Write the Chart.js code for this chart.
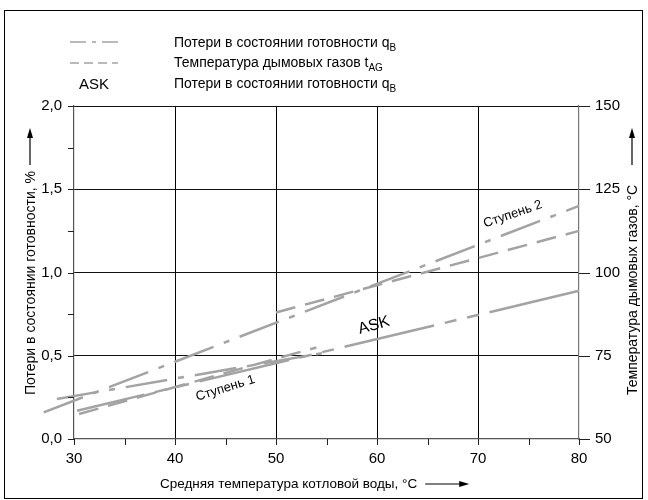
<!DOCTYPE html>
<html><head><meta charset="utf-8">
<script src="https://cdn.jsdelivr.net/npm/chart.js@4.4.0/dist/chart.umd.min.js"></script>
<style>
html,body{margin:0;padding:0;background:#fff;}
#wrap{position:relative;width:648px;height:500px;}
#frame{position:absolute;left:4px;top:10px;width:639px;height:489px;border:1.5px solid #000;box-sizing:border-box;}
canvas{position:absolute;left:0;top:0;}
</style></head><body>
<div id="wrap"><div id="frame"></div><canvas id="c" width="648" height="500"></canvas></div>
<script>
// x: average boiler water temperature, °C ; left y: standby losses q_B, % ; right y: flue gas temperature, °C
const xTicks = [30, 40, 50, 60, 70, 80];
const yLeftTicks = [0.0, 0.5, 1.0, 1.5, 2.0];
const yRightTicks = [50, 75, 100, 125, 150];
const stage2Loss = [{x: 27, y: 0.16}, {x: 80, y: 1.40}];
const stage2Gas = [{x: 50, y: 88}, {x: 80, y: 112.5}];
const stage1Loss = [{x: 28.3, y: 0.24}, {x: 55, y: 0.52}];
const stage1Gas = [{x: 30.5, y: 57.5}, {x: 54, y: 77.5}];
const askLoss = [{x: 80, y: 0.89}, {x: 30.3, y: 0.17}];

const gray = '#a3a3a3';
const FONT = '"Liberation Sans", Arial, sans-serif';
const isMajorY = v => Math.abs(v * 2 - Math.round(v * 2)) < 1e-6;
const chart = new Chart(document.getElementById('c'), {
  type: 'scatter',
  data: { datasets: [
    {data: stage2Loss, showLine: true, borderColor: gray, borderWidth: 2.5, borderDash: [42, 11, 6, 11], pointRadius: 0, yAxisID: 'y', clip: false},
    {data: stage2Gas, showLine: true, borderColor: gray, borderWidth: 2.5, borderDash: [20, 10], pointRadius: 0, yAxisID: 'y2', clip: false},
    {data: stage1Loss, showLine: true, borderColor: gray, borderWidth: 2.5, borderDash: [42, 11, 6, 11], pointRadius: 0, yAxisID: 'y', clip: false},
    {data: stage1Gas, showLine: true, borderColor: gray, borderWidth: 2.5, borderDash: [20, 10], pointRadius: 0, yAxisID: 'y2', clip: false},
    {data: askLoss, showLine: true, borderColor: gray, borderWidth: 2.5, borderDash: [92, 11, 12, 11, 12, 11], pointRadius: 0, yAxisID: 'y', clip: false}
  ]},
  options: {
    responsive: false, animation: false,
    layout: {padding: {left: 0, right: 0, top: 106, bottom: 0}},
    plugins: {legend: {display: false}, tooltip: {enabled: false}},
    scales: {
      x: {type: 'linear', min: 30, max: 80,
        afterFit: s => { s.height = 61; },
        afterBuildTicks: a => { a.ticks = []; for (let v = 30; v <= 80; v += 5) a.ticks.push({value: v}); },
        ticks: {color: '#000', font: {family: FONT, size: 15}, padding: 11, maxRotation: 0,
          callback: v => xTicks.includes(v) ? String(v) : ''},
        grid: {color: c => (c.tick && xTicks.includes(c.tick.value) && c.tick.value > 30 && c.tick.value < 80) ? '#000' : 'rgba(0,0,0,0)',
          lineWidth: 1, drawTicks: false},
        border: {display: true, color: '#555', width: 1.2}
      },
      y: {type: 'linear', position: 'left', min: 0, max: 2,
        afterFit: s => { s.width = 74; },
        afterBuildTicks: a => { a.ticks = []; for (let i = 0; i <= 8; i++) a.ticks.push({value: i * 0.25}); },
        ticks: {color: '#000', font: {family: FONT, size: 15}, padding: 12,
          callback: v => isMajorY(v) ? v.toFixed(1).replace('.', ',') : ''},
        grid: {color: c => (c.tick && isMajorY(c.tick.value) && c.tick.value > 0) ? '#111' : 'rgba(0,0,0,0)', lineWidth: 1, drawTicks: false},
        border: {display: true, color: '#555', width: 1.2}
      },
      y2: {type: 'linear', position: 'right', min: 50, max: 150,
        afterFit: s => { s.width = 69; },
        afterBuildTicks: a => { a.ticks = yRightTicks.map(v => ({value: v})); },
        ticks: {color: '#000', font: {family: FONT, size: 15}, padding: 8},
        grid: {display: false},
        border: {display: true, color: '#777', width: 1.2}
      }
    }
  },
  plugins: [{
    id: 'deco',
    afterDraw(ch) {
      const ctx = ch.ctx, x = ch.scales.x, y = ch.scales.y, y2 = ch.scales.y2;
      ctx.save();
      ctx.strokeStyle = '#222'; ctx.lineWidth = 1;
      for (let i = 0; i <= 8; i++) {
        const py = Math.round(y.getPixelForValue(i * 0.25)) + 0.5;
        ctx.beginPath(); ctx.moveTo(x.left - 6, py); ctx.lineTo(x.left, py); ctx.stroke();
      }
      for (const v of yRightTicks) {
        const py = Math.round(y2.getPixelForValue(v)) + 0.5;
        ctx.beginPath(); ctx.moveTo(x.right, py); ctx.lineTo(x.right + 11, py); ctx.stroke();
      }
      for (let v = 30; v <= 80; v += 5) {
        const px = Math.round(x.getPixelForValue(v)) + 0.5;
        ctx.beginPath(); ctx.moveTo(px, y.bottom); ctx.lineTo(px, y.bottom + 6); ctx.stroke();
      }
      ctx.fillStyle = '#000'; ctx.strokeStyle = '#000'; ctx.lineWidth = 1.2;
      const arrowH = (x0, x1, yy) => {
        ctx.beginPath(); ctx.moveTo(x0, yy); ctx.lineTo(x1 - 8, yy); ctx.stroke();
        ctx.beginPath(); ctx.moveTo(x1, yy); ctx.lineTo(x1 - 10, yy - 3); ctx.lineTo(x1 - 10, yy + 3); ctx.closePath(); ctx.fill();
      };
      const arrowV = (xx, y0, y1) => {
        ctx.beginPath(); ctx.moveTo(xx, y0); ctx.lineTo(xx, y1 + 8); ctx.stroke();
        ctx.beginPath(); ctx.moveTo(xx, y1); ctx.lineTo(xx - 3, y1 + 10); ctx.lineTo(xx + 3, y1 + 10); ctx.closePath(); ctx.fill();
      };
      // axis titles
      ctx.textBaseline = 'alphabetic';
      ctx.textAlign = 'left';
      ctx.font = '13.5px ' + FONT;
      ctx.fillText('Средняя температура котловой воды, °C', 160, 488);
      const tw = ctx.measureText('Средняя температура котловой воды, °C').width;
      arrowH(160 + tw + 8, 160 + tw + 52, 484);
      ctx.font = '14px ' + FONT;
      ctx.save(); ctx.translate(35, 395); ctx.rotate(-Math.PI / 2);
      ctx.fillText('Потери в состоянии готовности, %', 0, 0); ctx.restore();
      arrowV(30, 165, 128);
      ctx.save(); ctx.translate(637, 395); ctx.rotate(-Math.PI / 2);
      ctx.fillText('Температура дымовых газов, °C', 0, 0); ctx.restore();
      arrowV(632, 165, 128);
      // curve labels
      ctx.font = '13px ' + FONT;
      const lab = (t, vx, vy, ang) => {
        ctx.save(); ctx.translate(x.getPixelForValue(vx), y.getPixelForValue(vy)); ctx.rotate(ang); ctx.fillText(t, 0, 0); ctx.restore();
      };
      lab('Ступень 2', 70.7, 1.27, -0.33);
      lab('Ступень 1', 42.2, 0.23, -0.30);
      ctx.font = '16px ' + FONT;
      lab('ASK', 58.3, 0.63, -0.28);
      // legend
      ctx.strokeStyle = gray; ctx.lineWidth = 1.5;
      ctx.setLineDash([16, 6, 4, 6]);
      ctx.beginPath(); ctx.moveTo(70, 42); ctx.lineTo(118, 42); ctx.stroke();
      ctx.setLineDash([9, 5]);
      ctx.beginPath(); ctx.moveTo(70, 63); ctx.lineTo(118, 63); ctx.stroke();
      ctx.setLineDash([]);
      ctx.fillStyle = '#000';
      ctx.font = '15px ' + FONT;
      ctx.fillText('ASK', 79, 89);
      ctx.font = '14px ' + FONT;
      const leg = (t, sub, yy) => { ctx.fillText(t, 174, yy); const w = ctx.measureText(t).width; ctx.font = '10px ' + FONT; ctx.fillText(sub, 174 + w, yy + 4); ctx.font = '14px ' + FONT; };
      leg('Потери в состоянии готовности q', 'B', 47);
      leg('Температура дымовых газов t', 'AG', 67);
      leg('Потери в состоянии готовности q', 'B', 88);
      ctx.restore();
    }
  }]
});
</script>
</body></html>
